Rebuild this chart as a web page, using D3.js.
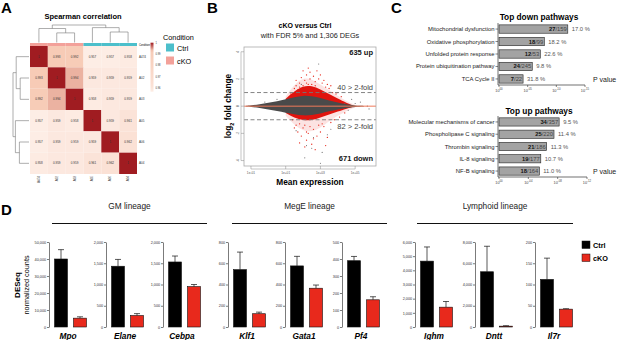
<!DOCTYPE html>
<html lang="en">
<head>
<meta charset="UTF-8" />
<title>Ctrl vs cKO RNA-seq summary</title>
<script src="https://cdn.jsdelivr.net/npm/d3@7"></script>
<style>
  body { margin: 0; background: #fff; }
  svg { display: block; font-family: "Liberation Sans", Arial, sans-serif; }
</style>
</head>
<body>
<svg id="fig" width="617" height="340"></svg>
<script>
// ---------- data: A, Spearman correlation ----------
const samples = ["A474", "A02", "A03", "A05", "A06", "A04"];
const sampleCondition = ["cKO", "cKO", "cKO", "Ctrl", "Ctrl", "Ctrl"];
const corr = [
  [1, 0.993, 0.992, 0.957, 0.957, 0.958],
  [0.993, 1, 0.994, 0.959, 0.959, 0.959],
  [0.992, 0.994, 1, 0.958, 0.959, 0.959],
  [0.957, 0.959, 0.958, 1, 0.959, 0.961],
  [0.957, 0.959, 0.959, 0.959, 1, 0.962],
  [0.958, 0.959, 0.959, 0.961, 0.962, 1]
];
const corrLegendTicks = [1, 0.99, 0.98, 0.97, 0.96];
const conditions = ["Ctrl", "cKO"];
// merges [node, node, height]; leaves 0-5, merged nodes numbered from 6
const clusterMerges = [[1, 2, 0.55], [0, 6, 0.8], [4, 5, 0.6], [3, 8, 0.85], [7, 9, 1]];

// ---------- data: B, MA plot (x = log10 mean expression, y = log2 FC) ----------
const maXTicks = [-1, 1, 3, 5];
const maYTicks = [4, 2, 0, -2, -4];
const greyCloud = [[-1.3, 0.02, -0.02], [-1.0, 0.06, -0.06], [-0.5, 0.14, -0.14], [0, 0.24, -0.24],
  [0.5, 0.36, -0.36], [1.0, 0.5, -0.48], [1.5, 0.66, -0.6], [2.0, 0.78, -0.7], [2.5, 0.74, -0.66],
  [3.0, 0.6, -0.54], [3.5, 0.42, -0.38], [4.0, 0.26, -0.24], [4.5, 0.12, -0.12], [5.0, 0.05, -0.05], [5.5, 0.02, -0.02]];
const redDense = [[1.0, 0.55, -0.5], [1.5, 1.1, -0.85], [2.0, 1.5, -1.05], [2.5, 1.5, -1.05],
  [3.0, 1.25, -0.85], [3.5, 0.9, -0.6], [4.0, 0.55, -0.4], [4.5, 0.24, -0.18], [4.8, 0.08, -0.08]];
const redSparse = [[1.0, 0.7, -0.7], [1.5, 1.6, -1.4], [2.0, 2.1, -1.8], [2.5, 2.0, -1.9],
  [3.0, 1.6, -1.6], [3.5, 1.2, -1.1], [4.0, 0.75, -0.7], [4.5, 0.35, -0.35], [5.0, 0.1, -0.1]];
const redPoints = [[1.3, 0.9], [1.5, 1.3], [1.6, 1.5], [1.8, 1.7], [1.9, 2.1], [2.1, 1.9], [2.2, 2.3], [2.4, 2.5],
  [2.3, 1.6], [2.6, 2.2], [2.7, 1.8], [2.9, 2.0], [3.1, 1.7], [3.3, 1.4], [3.5, 1.3], [3.7, 1.0], [3.9, 0.9],
  [4.2, 0.7], [2.0, 2.6], [2.8, 2.6], [1.7, 1.2], [3.0, 2.3], [1.6, 1.9], [2.0, 1.5], [2.2, 1.7], [2.5, 1.6],
  [2.4, 2.0], [2.7, 1.5], [3.2, 1.9], [3.4, 1.6], [1.8, 1.4], [2.3, 2.8], [3.6, 1.5], [4.0, 1.0],
  [1.4, -1.0], [1.6, -1.4], [1.7, -1.9], [1.9, -2.2], [2.0, -1.6], [2.2, -2.5], [2.3, -2.0], [2.5, -2.8],
  [2.6, -1.7], [2.8, -2.2], [3.0, -1.9], [3.2, -1.5], [3.4, -2.3], [3.6, -1.2], [3.8, -1.0], [4.1, -0.8],
  [2.1, -3.0], [2.7, -3.2], [1.8, -2.7], [4.4, -0.5], [3.3, -2.9], [1.8, -1.3], [2.1, -1.4], [2.4, -1.5],
  [2.9, -1.4], [3.1, -1.3], [2.2, -1.9], [2.6, -2.4], [1.5, -1.6]];
const greyPoints = [[2.2, -2.9], [2.6, -2.3], [2.5, -3.1], [3.0, -4.2], [3.4, -2.1], [1.6, -1.8], [2.1, -3.8],
  [3.1, -3.4], [4.8, 0.5], [5.3, 0.3], [5.7, 0.0], [5.8, -0.2], [4.4, 0.2], [4.6, -0.3], [5.0, 0.2],
  [1.9, 1.6], [2.9, 3.1], [3.6, -1.7], [0.5, 0.5], [-0.2, 0.3]];

// ---------- data: C, pathways (-log10 P) ----------
const downPathways = ["Mitochondrial dysfunction", "Oxidative phosphorylation", "Unfolded protein response",
  "Protein ubiquitination pathway", "TCA Cycle II"];
const downLogP = [12.0, 7.9, 7.2, 5.8, 4.2];
const downHits = [27, 18, 12, 24, 7];
const downTotals = [159, 99, 53, 245, 22];
const downPct = ["17.0 %", "18.2 %", "22.6 %", "9.8 %", "31.8 %"];
const downTicks = [0, 5, 10, 15];
const upPathways = ["Molecular mechanisms of cancer", "Phospholipase C signaling", "Thrombin signaling",
  "IL-8 signaling", "NF-B signaling"];
const upLogP = [8.2, 7.5, 6.5, 5.7, 5.5];
const upHits = [34, 25, 21, 19, 18];
const upTotals = [357, 220, 186, 177, 164];
const upPct = ["9.5 %", "11.4 %", "11.3 %", "10.7 %", "11.0 %"];
const upTicks = [0, 4, 8, 12];

// ---------- data: D, DESeq normalized counts ----------
const lineages = ["GM lineage", "MegE lineage", "Lymphoid lineage"];
const genes = ["Mpo", "Elane", "Cebpa", "Klf1", "Gata1", "Pf4", "Ighm", "Dntt", "Il7r"];
const ctrlMean = [40000, 1430, 1530, 540, 575, 390, 4650, 5200, 112];
const ctrlErr = [5500, 160, 140, 165, 90, 25, 1000, 2400, 50];
const koMean = [5200, 270, 950, 125, 365, 160, 1400, 80, 42];
const koErr = [800, 45, 50, 15, 30, 18, 400, 40, 1];
const axisMax = [50000, 2000, 2000, 800, 800, 500, 6000, 8000, 200];
const axisStep = [10000, 500, 500, 200, 200, 100, 1000, 2000, 50];

const svg = d3.select("#fig");
const RED = "#e8291c";

// panel letters
[["A", 1, 13], ["B", 207, 13], ["C", 391, 13], ["D", 1, 215]].forEach(([t, x, y]) =>
  svg.append("text").attr("x", x).attr("y", y).attr("font-size", 15).attr("font-weight", "bold").text(t));

// ================= A =================
const gA = svg.append("g");
const hx = d3.scaleBand().domain(d3.range(6)).range([30, 137]);
const hy = d3.scaleBand().domain(d3.range(6)).range([46, 174]);
const heatColor = d3.scaleLinear().domain([0.957, 0.962, 0.993, 1])
  .range(["#fdede5", "#fbe1d5", "#f7cbb6", "#a01c21"]);
const condColor = d3.scaleOrdinal().domain(conditions).range(["#4cbfcb", "#f3a19a"]);

gA.append("text").attr("x", 83).attr("y", 18.5).attr("text-anchor", "middle")
  .attr("font-size", 7.5).attr("font-weight", "bold").text("Spearman correlation");

corr.forEach((row, i) => row.forEach((v, j) => {
  gA.append("rect").attr("x", hx(j)).attr("y", hy(i))
    .attr("width", hx.bandwidth()).attr("height", hy.bandwidth()).attr("fill", heatColor(v));
  gA.append("text").attr("x", hx(j) + hx.bandwidth() / 2).attr("y", hy(i) + hy.bandwidth() / 2 + 1)
    .attr("text-anchor", "middle").attr("font-size", 3).attr("fill", "#333")
    .text(v === 1 ? "1" : d3.format(".3f")(v));
}));
// annotation bar
samples.forEach((s, j) => gA.append("rect").attr("x", hx(j)).attr("y", 43)
  .attr("width", hx.bandwidth()).attr("height", 3).attr("fill", condColor(sampleCondition[j])));
gA.append("text").attr("x", 139).attr("y", 45.5).attr("font-size", 2.6).text("Condition");
samples.forEach((s, i) => {
  gA.append("text").attr("x", 139).attr("y", hy(i) + hy.bandwidth() / 2 + 1)
    .attr("font-size", 3).attr("fill", "#333").text(s);
  const cx = hx(i) + hx.bandwidth() / 2;
  gA.append("text").attr("transform", `translate(${cx + 1},176) rotate(-90)`)
    .attr("text-anchor", "end").attr("font-size", 3).attr("fill", "#333").text(s);
});

// dendrograms
function drawDendro(pos, hScale, horizontal) {
  const nodes = d3.range(6).map(i => ({ p: pos(i), h: 0 }));
  clusterMerges.forEach(([a, b, h]) => {
    const A = nodes[a], B = nodes[b];
    const d = horizontal
      ? `M${A.p},${hScale(A.h)}V${hScale(h)}H${B.p}V${hScale(B.h)}`
      : `M${hScale(A.h)},${A.p}H${hScale(h)}V${B.p}H${hScale(B.h)}`;
    gA.append("path").attr("d", d).attr("fill", "none").attr("stroke", "#777").attr("stroke-width", 0.6);
    nodes.push({ p: (A.p + B.p) / 2, h: h });
  });
}
drawDendro(i => hx(i) + hx.bandwidth() / 2, d3.scaleLinear().domain([0, 1]).range([42.5, 25]), true);
drawDendro(i => hy(i) + hy.bandwidth() / 2, d3.scaleLinear().domain([0, 1]).range([29, 13]), false);

// colour legend
const cb = d3.scaleLinear().domain([1, 0.957]).range([42.7, 91.7]);
const grad = svg.append("defs").append("linearGradient").attr("id", "corrGrad")
  .attr("x1", 0).attr("x2", 0).attr("y1", 0).attr("y2", 1);
d3.range(0, 1.0001, 0.05).forEach(t => grad.append("stop").attr("offset", t)
  .attr("stop-color", heatColor(1 - t * 0.043)));
gA.append("rect").attr("x", 150.5).attr("y", cb(1)).attr("width", 3)
  .attr("height", cb(0.957) - cb(1)).attr("fill", "url(#corrGrad)");
corrLegendTicks.forEach(v => gA.append("text").attr("x", 155.5).attr("y", cb(v) + 1)
  .attr("font-size", 2.6).attr("fill", "#333").text(v));
gA.append("text").attr("x", 163).attr("y", 40).attr("font-size", 7.3).text("Condition");
conditions.forEach((c, i) => {
  gA.append("rect").attr("x", 166).attr("y", 43.5 + i * 13).attr("width", 8).attr("height", 8)
    .attr("fill", condColor(c));
  gA.append("text").attr("x", 177).attr("y", 50.5 + i * 13).attr("font-size", 7.3).text(c);
});

// ================= B =================
const gB = svg.append("g");
const mx = d3.scaleLinear().domain([-1.4, 6.2]).range([244, 376]);
const my = d3.scaleLinear().domain([-4.4, 4.35]).range([166, 47]);
gB.append("text").attr("x", 305).attr("y", 27.5).attr("text-anchor", "middle")
  .attr("font-size", 7).attr("font-weight", "bold").text("cKO versus Ctrl");
gB.append("text").attr("x", 310).attr("y", 38).attr("text-anchor", "middle")
  .attr("font-size", 7.3).attr("fill", "#222").text("with FDR 5% and 1,306 DEGs");

const clip = svg.select("defs").append("clipPath").attr("id", "maClip");
clip.append("rect").attr("x", 244).attr("y", 47).attr("width", 132).attr("height", 119);
const plotB = gB.append("g").attr("clip-path", "url(#maClip)");
const band = d3.area().x(d => mx(d[0])).y0(d => my(d[2])).y1(d => my(d[1])).curve(d3.curveBasis);
plotB.append("path").attr("d", band(redSparse)).attr("fill", RED).attr("opacity", 0.13);
plotB.selectAll(".rp").data(redPoints).join("circle")
  .attr("cx", d => mx(d[0])).attr("cy", d => my(d[1])).attr("r", 0.65).attr("fill", RED);
plotB.append("path").attr("d", band(redDense)).attr("fill", "#e0140e");
plotB.append("path").attr("d", band(greyCloud)).attr("fill", "#4a4a4a");
plotB.selectAll(".gp").data(greyPoints).join("circle")
  .attr("cx", d => mx(d[0])).attr("cy", d => my(d[1])).attr("r", 0.55).attr("fill", "#666");
plotB.append("line").attr("x1", 244).attr("x2", 376).attr("y1", my(0)).attr("y2", my(0))
  .attr("stroke", "#f07a5a").attr("stroke-width", 1);
[1, -1].forEach(v => plotB.append("line").attr("x1", 244).attr("x2", 376)
  .attr("y1", my(v)).attr("y2", my(v)).attr("stroke", "#777").attr("stroke-width", 0.9)
  .attr("stroke-dasharray", "4,2.5"));
gB.append("rect").attr("x", 244).attr("y", 47).attr("width", 132).attr("height", 119)
  .attr("fill", "none").attr("stroke", "#aaa").attr("stroke-width", 0.8);

maXTicks.forEach(t => {
  gB.append("line").attr("x1", mx(t)).attr("x2", mx(t)).attr("y1", 166).attr("y2", 169)
    .attr("stroke", "#888").attr("stroke-width", 0.5);
  gB.append("text").attr("x", mx(t)).attr("y", 173.5).attr("text-anchor", "middle")
    .attr("font-size", 3.2).attr("fill", "#555").text("1e" + (t < 0 ? "-" : "+") + d3.format("02")(Math.abs(t)));
});
gB.append("line").attr("x1", mx(-1)).attr("x2", mx(5)).attr("y1", 169).attr("y2", 169)
  .attr("stroke", "#888").attr("stroke-width", 0.5);
maYTicks.forEach(t => {
  gB.append("line").attr("x1", 241).attr("x2", 244).attr("y1", my(t)).attr("y2", my(t))
    .attr("stroke", "#888").attr("stroke-width", 0.5);
  gB.append("text").attr("transform", `translate(239,${my(t)}) rotate(-90)`).attr("text-anchor", "middle")
    .attr("font-size", 3.2).attr("fill", "#555").text(t);
});
gB.append("line").attr("x1", 241).attr("x2", 241).attr("y1", my(4)).attr("y2", my(-4))
  .attr("stroke", "#888").attr("stroke-width", 0.5);
const yl = gB.append("text").attr("transform", `translate(231,106) rotate(-90)`).attr("text-anchor", "middle")
  .attr("font-size", 8.3).attr("font-weight", "bold");
yl.append("tspan").text("log");
yl.append("tspan").attr("font-size", 5.5).attr("dy", 2.5).text("2");
yl.append("tspan").attr("dy", -2.5).text(" fold change");
gB.append("text").attr("x", 310).attr("y", 185).attr("text-anchor", "middle")
  .attr("font-size", 8.3).attr("font-weight", "bold").text("Mean expression");
[["635 up", 55, true], ["40 > 2-fold", my(1) - 3, false], ["82 > 2-fold", my(-1) + 9, false], ["671 down", 161, true]]
  .forEach(([t, y, b]) => gB.append("text").attr("x", 373).attr("y", y).attr("text-anchor", "end")
    .attr("font-size", 7.5).attr("font-weight", b ? "bold" : "normal").attr("fill", b ? "#111" : "#444").text(t));

// ================= C =================
function pathwayChart(title, titleY, names, logP, hits, totals, pct, ticks, xMax, xRight, top, axisY) {
  const g = svg.append("g");
  const x = d3.scaleLinear().domain([0, xMax]).range([499, xRight]);
  const y = d3.scaleBand().domain(names).range([top, axisY]).paddingInner(0.33).paddingOuter(0.15);
  g.append("text").attr("x", 539).attr("y", titleY).attr("text-anchor", "middle")
    .attr("font-size", 8.3).attr("font-weight", "bold").text(title);
  names.forEach((n, i) => {
    const yc = y(n) + y.bandwidth() / 2;
    g.append("rect").attr("x", x(0)).attr("y", y(n)).attr("width", x(logP[i]) - x(0))
      .attr("height", y.bandwidth()).attr("fill", "#a3a3a3").attr("stroke", "#222").attr("stroke-width", 0.6);
    g.append("line").attr("x1", 495.5).attr("x2", 498).attr("y1", yc).attr("y2", yc)
      .attr("stroke", "#333").attr("stroke-width", 0.6);
    g.append("text").attr("x", 494.5).attr("y", yc + 2).attr("text-anchor", "end")
      .attr("font-size", 5.9).attr("fill", "#222").text(n);
    const lab = g.append("text").attr("x", x(logP[i]) - 1).attr("y", yc + 2).attr("text-anchor", "end")
      .attr("font-size", 5.8);
    lab.append("tspan").attr("font-weight", "bold").attr("fill", "#111").text(hits[i]);
    lab.append("tspan").attr("fill", "#444").text("/" + totals[i]);
    g.append("text").attr("x", x(logP[i]) + 4).attr("y", yc + 2).attr("font-size", 5.8)
      .attr("fill", "#555").text(pct[i]);
  });
  g.append("line").attr("x1", 498).attr("x2", 498).attr("y1", top).attr("y2", axisY)
    .attr("stroke", "#333").attr("stroke-width", 0.7);
  g.append("line").attr("x1", 498).attr("x2", x(xMax)).attr("y1", axisY).attr("y2", axisY)
    .attr("stroke", "#333").attr("stroke-width", 0.7);
  ticks.forEach(t => {
    g.append("line").attr("x1", x(t)).attr("x2", x(t)).attr("y1", axisY).attr("y2", axisY + 2)
      .attr("stroke", "#333").attr("stroke-width", 0.6);
    const tl = g.append("text").attr("x", x(t)).attr("y", axisY + 6.5).attr("text-anchor", "middle")
      .attr("font-size", 3.8).attr("fill", "#444");
    tl.append("tspan").text("10");
    tl.append("tspan").attr("dy", -1.5).attr("font-size", 2.8).text(t === 0 ? "00" : "-" + d3.format("02")(t));
  });
  g.append("text").attr("x", 593).attr("y", axisY - 3).attr("font-size", 7).attr("fill", "#222").text("P value");
}
pathwayChart("Top down pathways", 19.5, downPathways, downLogP, downHits, downTotals, downPct, downTicks, 15, 585, 23, 85);
pathwayChart("Top up pathways", 113.5, upPathways, upLogP, upHits, upTotals, upPct, upTicks, 12, 587, 116, 177);

// ================= D =================
const gD = svg.append("g");
const groupStart = [49, 228, 415];
const groupStep = [57, 57, 60];
const lineX = [[52, 207], [232, 387], [417, 573]];
lineages.forEach((l, k) => {
  gD.append("text").attr("x", (lineX[k][0] + lineX[k][1]) / 2).attr("y", 209).attr("text-anchor", "middle")
    .attr("font-size", 8.3).attr("fill", "#222").text(l);
  gD.append("line").attr("x1", lineX[k][0]).attr("x2", lineX[k][1]).attr("y1", 223.5).attr("y2", 223.5)
    .attr("stroke", "#111").attr("stroke-width", 1);
});
genes.forEach((gname, i) => {
  const ax = groupStart[Math.floor(i / 3)] + (i % 3) * groupStep[Math.floor(i / 3)];
  const y = d3.scaleLinear().domain([0, axisMax[i]]).range([327, 242]);
  const g = gD.append("g");
  g.append("g").attr("transform", `translate(${ax},0)`)
    .call(d3.axisLeft(y).tickValues(d3.range(0, axisMax[i] + 1, axisStep[i])).tickSize(2).tickSizeOuter(0).tickPadding(0.8))
    .call(a => a.selectAll("text").attr("font-size", 3.8).attr("fill", "#333").attr("font-family", null))
    .call(a => a.selectAll("line,path").attr("stroke", "#222").attr("stroke-width", 0.6));
  const bars = [[ctrlMean[i], ctrlErr[i], "#000", ax + 5.5], [koMean[i], koErr[i], RED, ax + 24.5]];
  bars.forEach(([m, e, c, bx]) => {
    const cxm = bx + 6.5;
    g.append("line").attr("x1", cxm).attr("x2", cxm).attr("y1", y(m)).attr("y2", y(m + e))
      .attr("stroke", "#111").attr("stroke-width", 0.7);
    g.append("line").attr("x1", cxm - 3).attr("x2", cxm + 3).attr("y1", y(m + e)).attr("y2", y(m + e))
      .attr("stroke", "#111").attr("stroke-width", 0.7);
    g.append("rect").attr("x", bx).attr("y", y(m)).attr("width", 13).attr("height", y(0) - y(m))
      .attr("fill", c).attr("stroke", "#111").attr("stroke-width", 0.6);
  });
  g.append("text").attr("x", ax + 19).attr("y", 339).attr("text-anchor", "middle")
    .attr("font-size", 8.3).attr("font-weight", "bold").attr("font-style", "italic").text(gname);
});
const yd = gD.append("text").attr("transform", "translate(23,285) rotate(-90)").attr("text-anchor", "middle");
yd.append("tspan").attr("x", 0).attr("dy", -3).attr("font-size", 8).attr("font-weight", "bold").text("DESeq");
yd.append("tspan").attr("x", 0).attr("dy", 9).attr("font-size", 7.3).text("normalized counts");
[["Ctrl", "#000"], ["cKO", RED]].forEach(([t, c], i) => {
  gD.append("rect").attr("x", 582).attr("y", 241 + i * 13).attr("width", 8).attr("height", 7.5)
    .attr("fill", c).attr("stroke", "#111").attr("stroke-width", 0.5);
  gD.append("text").attr("x", 593).attr("y", 247.5 + i * 13).attr("font-size", 7.3)
    .attr("font-weight", "bold").text(t);
});
</script>
</body>
</html>
